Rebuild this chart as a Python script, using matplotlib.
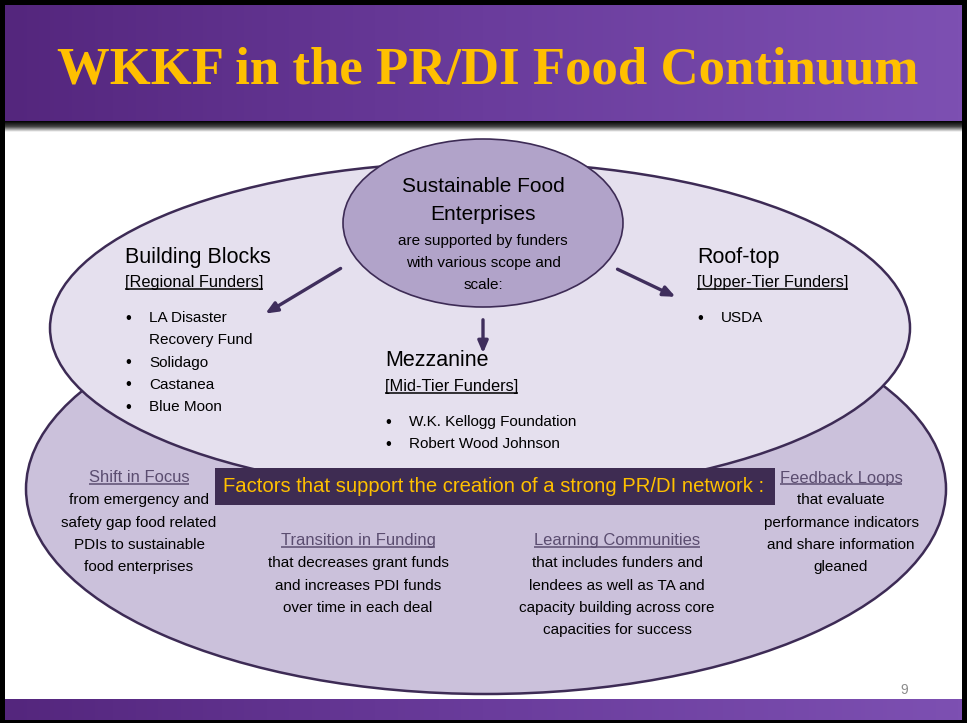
import matplotlib
matplotlib.use("Agg")
import matplotlib.pyplot as plt
import numpy as np
from matplotlib.patches import Ellipse, Rectangle, FancyArrowPatch
from matplotlib.colors import LinearSegmentedColormap

# slide texts
title = "WKKF in the PR/DI Food Continuum"
center_head = ["Sustainable Food", "Enterprises"]
center_body = ["are supported by funders", "with various scope and", "scale:"]

tiers = ["Building Blocks", "Mezzanine", "Roof-top"]
tier_subs = ["[Regional Funders]", "[Mid-Tier Funders]", "[Upper-Tier Funders]"]
tier_items = [
    [["LA Disaster", "Recovery Fund"], ["Solidago"], ["Castanea"], ["Blue Moon"]],
    [["W.K. Kellogg Foundation"], ["Robert Wood Johnson"]],
    [["USDA"]],
]

banner = "Factors that support the creation of a strong PR/DI network :"
factor_heads = ["Shift in Focus", "Transition in Funding", "Learning Communities", "Feedback Loops"]
factor_lines = [
    ["from emergency and", "safety gap food related", "PDIs to sustainable", "food enterprises"],
    ["that decreases grant funds", "and increases PDI funds", "over time in each deal"],
    ["that includes funders and", "lendees as well as TA and", "capacity building across core", "capacities for success"],
    ["that evaluate", "performance indicators", "and share information", "gleaned"],
]
page_no = "9"

SANS = ["Liberation Sans", "DejaVu Sans"]
GOLD = "#FFC000"
EDGE = "#3D2B55"
HEAD = "#5B4D70"

W, H = 967, 723
fig = plt.figure(figsize=(W / 100, H / 100), dpi=100)
fig.patch.set_facecolor("black")
ax = fig.add_axes([0, 0, 1, 1])
ax.axis("off")

# white slide body
ax.add_patch(Rectangle((5, 5), 957, 714, facecolor="white", edgecolor="none", zorder=0))

# purple bars with horizontal gradient
bar_cmap = LinearSegmentedColormap.from_list("bar", ["#54267D", "#6A3C9C", "#7D50B2"])
grad = np.linspace(0, 1, 256).reshape(1, -1)
ax.imshow(grad, cmap=bar_cmap, extent=(5, 962, 121, 5), aspect="auto", zorder=1)
ax.imshow(grad, cmap=bar_cmap, extent=(5, 962, 720, 699), aspect="auto", zorder=1)
# shadow under the title bar
shade = LinearSegmentedColormap.from_list("sh", ["#000000", "#444444", "#ffffff"])
ax.imshow(np.linspace(0, 1, 64).reshape(-1, 1), cmap=shade, extent=(5, 962, 132, 121),
          aspect="auto", zorder=1)

ax.text(488, 70, title, ha="center", va="center", color=GOLD, fontsize=38,
        fontweight="bold", family=["Liberation Serif", "DejaVu Serif"], zorder=5)

# ellipses
ax.add_patch(Ellipse((486, 489), 920, 410, facecolor="#CBC1DB", edgecolor=EDGE, lw=1.8, zorder=2))
ax.add_patch(Ellipse((480, 328), 860, 332, facecolor="#E5E0EE", edgecolor=EDGE, lw=1.8, zorder=3))
ax.add_patch(Ellipse((483, 223), 280, 168, facecolor="#B1A3C9", edgecolor=EDGE, lw=1.2, zorder=4))

# arrows
for (x0, y0), (x1, y1) in [((343, 267), (263, 315)), ((483, 317), (483, 356)), ((615, 268), (678, 298))]:
    ax.add_patch(FancyArrowPatch((x0, y0), (x1, y1), arrowstyle="-|>,head_length=7,head_width=3",
                                 color="#3F2E5C", lw=2.4, mutation_scale=1, zorder=6))

# center ellipse text
for s, y in zip(center_head, [186, 214]):
    ax.text(483, y, s, ha="center", va="center", fontsize=15, family=SANS, zorder=7)
for s, y in zip(center_body, [241, 263, 285]):
    ax.text(483, y, s, ha="center", va="center", fontsize=11, family=SANS, zorder=7)

underlined = []

# tiers
tier_x = [125, 385, 697]
tier_y = [257, 361, 257]
for x, y, name, sub, items in zip(tier_x, tier_y, tiers, tier_subs, tier_items):
    ax.text(x, y, name, ha="left", va="center", fontsize=15.5, family=SANS, zorder=7)
    t = ax.text(x, y + 26, sub, ha="left", va="center", fontsize=11.8, family=SANS, zorder=7)
    underlined.append((t, "black"))
    ly = y + 61
    for item in items:
        ax.text(x + 3, ly, "\u2022", ha="center", va="center", fontsize=12, family=SANS, zorder=7)
        for line in item:
            ax.text(x + 24, ly, line, ha="left", va="center", fontsize=11, family=SANS, zorder=7)
            ly += 22.3

# banner
ax.add_patch(Rectangle((215, 468), 560, 37, facecolor="#3E2C52", edgecolor="none", zorder=8))
ax.text(494, 487, banner, ha="center", va="center", color=GOLD, fontsize=14.6,
        family=SANS, zorder=9)

# factors
fx = [139, 358, 617, 841]
fy = [478, 541, 541, 478]
for x, y, head, lines in zip(fx, fy, factor_heads, factor_lines):
    t = ax.text(x, y, head, ha="center", va="center", color=HEAD, fontsize=11.9,
                family=SANS, zorder=9)
    underlined.append((t, HEAD))
    for i, line in enumerate(lines):
        ax.text(x, y + 22.3 * (i + 1), line, ha="center", va="center", fontsize=11,
                family=SANS, zorder=9)

ax.text(904, 690, page_no, ha="center", va="center", color="#8C8C8C", fontsize=10,
        family=SANS, zorder=9)

ax.set_xlim(0, W)
ax.set_ylim(H, 0)

# underline headings using the rendered text extents
fig.canvas.draw()
renderer = fig.canvas.get_renderer()
inv = ax.transData.inverted()
for t, c in underlined:
    bb = t.get_window_extent(renderer)
    (x0, yb), (x1, _) = inv.transform([[bb.x0, bb.y0], [bb.x1, bb.y1]])
    ax.plot([x0, x1], [yb - 1.5, yb - 1.5], color=c, lw=1.1, zorder=9,
            solid_capstyle="butt")

fig.savefig("out.png", dpi=100, facecolor=fig.get_facecolor())
